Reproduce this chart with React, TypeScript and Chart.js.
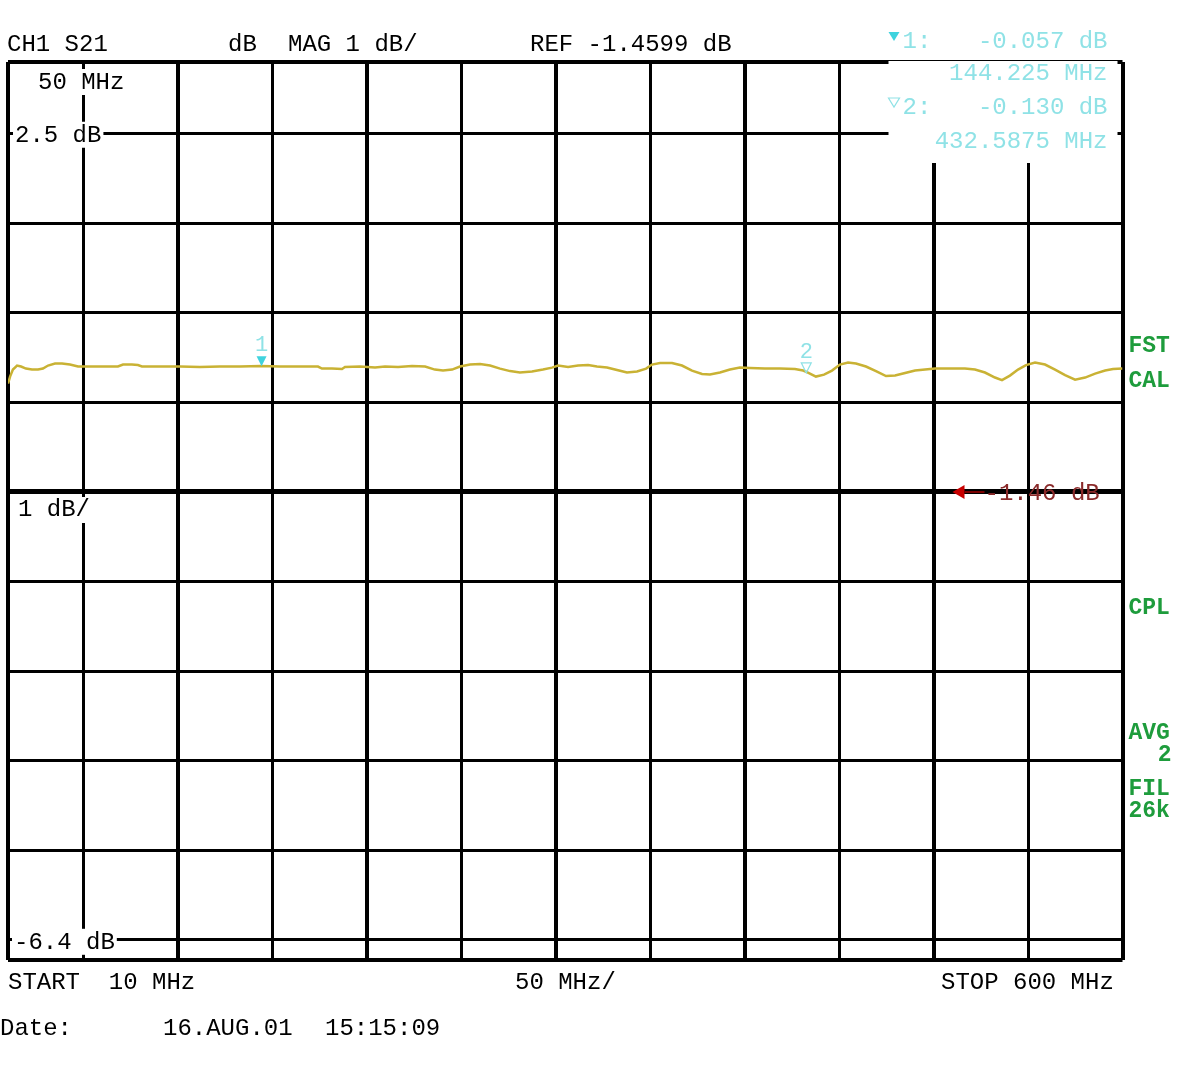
import { useEffect, useRef } from "react";
import { Chart, registerables } from "chart.js";

Chart.register(...registerables);

// ---------- data ----------
const START_MHZ = 10;
const STOP_MHZ = 600;
const REF_DB = -1.4599;
const Y_MAX_DB = 3.3413;
const Y_MIN_DB = -6.6855;

const freqMHz = [
  10, 11.1, 12.6, 14.8, 16.9, 19.5, 22.7, 25.9, 28.5, 31.2, 34.9, 38.6, 42.8, 47.1,
  53.4, 61.4, 68.2, 70.9, 75.6, 78.8, 80.9, 90.5, 101.1, 111.6, 122.2, 132.8, 143.9,
  154.0, 164.6, 174.1, 176.2, 181.5, 186.8, 188.4, 196.3, 204.3, 209.6, 216.5, 223.9,
  230.8, 236.0, 240.3, 245.1, 249.3, 254.6, 259.9, 265.2, 270.5, 275.8, 281.0, 287.4,
  293.2, 298.0, 301.2, 306.5, 311.8, 317.1, 321.8, 327.1, 332.4, 337.7, 343.0, 347.8,
  350.9, 355.2, 361.5, 366.8, 372.1, 377.4, 381.6, 386.9, 392.2, 397.5, 402.8, 410.7,
  418.7, 426.6, 430.9, 433.5, 437.7, 442.0, 446.2, 450.4, 454.7, 458.9, 464.2, 469.5,
  474.8, 479.6, 484.9, 490.2, 495.5, 500.8, 508.7, 516.6, 521.9, 527.2, 532.5, 536.2,
  540.4, 544.7, 548.9, 553.7, 559.0, 564.3, 569.6, 574.9, 580.2, 585.5, 590.8, 595.0, 600,
];
const magDb = [
  -0.249, -0.171, -0.093, -0.048, -0.059, -0.082, -0.093, -0.093, -0.082, -0.048, -0.026,
  -0.026, -0.037, -0.059, -0.059, -0.059, -0.059, -0.037, -0.037, -0.043, -0.059, -0.059,
  -0.059, -0.065, -0.059, -0.059, -0.054, -0.059, -0.059, -0.059, -0.082, -0.082, -0.087,
  -0.065, -0.059, -0.071, -0.059, -0.065, -0.054, -0.059, -0.093, -0.104, -0.093, -0.059,
  -0.037, -0.031, -0.048, -0.082, -0.110, -0.126, -0.115, -0.093, -0.071, -0.048, -0.065,
  -0.048, -0.043, -0.059, -0.071, -0.098, -0.126, -0.115, -0.082, -0.037, -0.020, -0.020,
  -0.048, -0.104, -0.143, -0.149, -0.126, -0.093, -0.071, -0.076, -0.082, -0.082, -0.087,
  -0.104, -0.126, -0.171, -0.149, -0.104, -0.037, -0.015, -0.026, -0.059, -0.110, -0.165,
  -0.160, -0.132, -0.104, -0.093, -0.082, -0.082, -0.082, -0.093, -0.126, -0.182, -0.210,
  -0.160, -0.093, -0.043, -0.015, -0.037, -0.093, -0.154, -0.205, -0.182, -0.138, -0.104,
  -0.087, -0.082,
];

const xGridMHz = [50, 100, 150, 200, 250, 300, 350, 400, 450, 500, 550];
const yGridDivs = [-5, -4, -3, -2, -1, 0, 1, 2, 3, 4];

const markerNames = ["1", "2"];
const markerFreqMHz = [144.225, 432.5875];
const markerDb = [-0.057, -0.13];
const markerReadDb = ["-0.057 dB", "-0.130 dB"];
const markerReadFreq = ["144.225 MHz", "432.5875 MHz"];

const headerTexts = ["CH1 S21", "dB", "MAG 1 dB/", "REF -1.4599 dB"];
const footerTexts = ["START  10 MHz", "50 MHz/", "STOP 600 MHz"];
const dateTexts = ["Date:", "16.AUG.01", "15:15:09"];
const topScaleLabel = "2.5 dB";
const bottomScaleLabel = "-6.4 dB";
const freqLabel = "50 MHz";
const divLabel = "1 dB/";
const refLabel = "-1.46 dB";
const statusTexts = ["FST", "CAL", "CPL", "AVG", "2", "FIL", "26k"];

// ---------- styles ----------
const FONT = "24px 'Liberation Mono', 'DejaVu Sans Mono', monospace";
const FONT_GREEN = "bold 23px 'Liberation Mono', 'DejaVu Sans Mono', monospace";
const FONT_MK = "22px 'Liberation Mono', 'DejaVu Sans Mono', monospace";
const TRACE = "#c9b234";
const CYAN = "#8fe2e6";
const CYAN_FILL = "#3fd3de";
const GREEN = "#1e9c3c";

function textBox(ctx: CanvasRenderingContext2D, s: string, x: number, base: number) {
  const w = ctx.measureText(s).width;
  ctx.fillStyle = "#fff";
  ctx.fillRect(x - 2, base - 20, w + 4, 26);
}

const overlayPlugin = {
  id: "hpOverlay",
  beforeDatasetsDraw(chart: any) {
    const ctx: CanvasRenderingContext2D = chart.ctx;
    const { left, top, right } = chart.chartArea;
    const ys = chart.scales.y;
    ctx.save();
    ctx.font = FONT;
    // marker readout area erases the grid
    ctx.fillStyle = "#fff";
    ctx.fillRect(right - 234, top - 1, 229, 102);
    const y25 = ys.getPixelForValue(REF_DB + 4);
    const y64 = ys.getPixelForValue(REF_DB - 5);
    const yRef = ys.getPixelForValue(REF_DB);
    textBox(ctx, freqLabel, left + 30, top + 27);
    textBox(ctx, topScaleLabel, left + 7, y25 + 8);
    textBox(ctx, divLabel, left + 10, yRef + 25);
    textBox(ctx, bottomScaleLabel, left + 6, y64 + 9);
    ctx.restore();
  },
  afterDatasetsDraw(chart: any) {
    const ctx: CanvasRenderingContext2D = chart.ctx;
    const { left, top, right } = chart.chartArea;
    const xs = chart.scales.x;
    const ys = chart.scales.y;
    ctx.save();
    // markers on the trace
    markerFreqMHz.forEach((f, i) => {
      const px = xs.getPixelForValue(f);
      const py = ys.getPixelForValue(markerDb[i]);
      ctx.beginPath();
      ctx.moveTo(px - 5, py - 10);
      ctx.lineTo(px + 5, py - 10);
      ctx.lineTo(px, py);
      ctx.closePath();
      if (i === 0) {
        ctx.fillStyle = CYAN_FILL;
        ctx.fill();
      } else {
        ctx.strokeStyle = CYAN;
        ctx.lineWidth = 1.2;
        ctx.stroke();
      }
      ctx.font = FONT_MK;
      ctx.fillStyle = CYAN;
      ctx.textAlign = "center";
      ctx.fillText(markerNames[i], px, py - 15);
    });
    // reference position arrow
    const yRef = ys.getPixelForValue(REF_DB);
    const ax = right - 170;
    ctx.fillStyle = "#c80000";
    ctx.beginPath();
    ctx.moveTo(ax, yRef);
    ctx.lineTo(ax + 12, yRef - 7);
    ctx.lineTo(ax + 12, yRef + 7);
    ctx.closePath();
    ctx.fill();
    ctx.fillStyle = "#7a0000";
    ctx.fillRect(ax + 12, yRef - 1, 20, 2);
    ctx.font = FONT;
    ctx.textAlign = "left";
    ctx.fillStyle = "#8a2a2a";
    ctx.fillText(refLabel, right - 138, yRef + 8);

    // labels inside the graticule
    ctx.fillStyle = "#000";
    const y25 = ys.getPixelForValue(REF_DB + 4);
    const y64 = ys.getPixelForValue(REF_DB - 5);
    ctx.fillText(freqLabel, left + 30, top + 27);
    ctx.fillText(topScaleLabel, left + 7, y25 + 8);
    ctx.fillText(divLabel, left + 10, yRef + 24);
    ctx.fillText(bottomScaleLabel, left + 6, y64 + 9);
    ctx.restore();
  },
  afterDraw(chart: any) {
    const ctx: CanvasRenderingContext2D = chart.ctx;
    const { top, right, bottom } = chart.chartArea;
    ctx.save();
    ctx.font = FONT;
    ctx.fillStyle = "#000";
    ctx.textAlign = "left";
    // header
    const hx = [7, 228, 288, 530];
    headerTexts.forEach((s, i) => ctx.fillText(s, hx[i], top - 11));
    // footer
    const fx = [8, 515, 941];
    footerTexts.forEach((s, i) => ctx.fillText(s, fx[i], bottom + 29));
    const dx = [0, 163, 325];
    dateTexts.forEach((s, i) => ctx.fillText(s, dx[i], bottom + 75));

    // marker readouts
    ctx.fillStyle = CYAN;
    const rowY = [top - 14, top + 18, top + 52, top + 86];
    [0, 1].forEach((i) => {
      const yy = rowY[i * 2];
      const tx = right - 234;
      ctx.beginPath();
      ctx.moveTo(tx, yy - 16);
      ctx.lineTo(tx + 11, yy - 16);
      ctx.lineTo(tx + 5.5, yy - 7);
      ctx.closePath();
      if (i === 0) {
        ctx.fillStyle = CYAN_FILL;
        ctx.fill();
      } else {
        ctx.strokeStyle = CYAN;
        ctx.lineWidth = 1.2;
        ctx.stroke();
      }
      ctx.fillStyle = CYAN;
      ctx.textAlign = "left";
      ctx.fillText(markerNames[i] + ":", tx + 14, yy);
      ctx.textAlign = "right";
      ctx.fillText(markerReadDb[i], right - 15, yy);
      ctx.fillText(markerReadFreq[i], right - 15, rowY[i * 2 + 1]);
    });

    // status annotations
    ctx.font = FONT_GREEN;
    ctx.fillStyle = GREEN;
    const sy = [352, 387, 614, 739, 761, 795, 817];
    statusTexts.forEach((s, i) => {
      if (s === "2") {
        ctx.textAlign = "right";
        ctx.fillText(s, right + 49, sy[i]);
      } else {
        ctx.textAlign = "left";
        ctx.fillText(s, right + 6, sy[i]);
      }
    });
    ctx.restore();
  },
};

export default function App() {
  const ref = useRef<HTMLCanvasElement | null>(null);

  useEffect(() => {
    if (!ref.current) return;
    const xTickVals = [START_MHZ, ...xGridMHz, STOP_MHZ];
    const yTickVals = [Y_MIN_DB, ...yGridDivs.map((k) => REF_DB + k), Y_MAX_DB];
    const chart = new Chart(ref.current, {
      type: "line",
      data: {
        datasets: [
          {
            data: freqMHz.map((f, i) => ({ x: f, y: magDb[i] })),
            borderColor: TRACE,
            borderWidth: 2.5,
            pointRadius: 0,
            tension: 0,
            fill: false,
          },
        ],
      },
      options: {
        animation: false,
        responsive: false,
        events: [],
        layout: { padding: { left: 8, top: 62, right: 58.5, bottom: 130 } },
        plugins: { legend: { display: false }, tooltip: { enabled: false } },
        scales: {
          x: {
            type: "linear",
            min: START_MHZ,
            max: STOP_MHZ,
            ticks: { display: false },
            border: { display: false },
            grid: {
              drawTicks: false,
              color: "#000",
              lineWidth: (c: any) => {
                const v = c.tick ? c.tick.value : 0;
                if (v === START_MHZ || v === STOP_MHZ) return 4;
                return v % 100 === 0 ? 4 : 3;
              },
            },
            afterBuildTicks: (s: any) => {
              s.ticks = xTickVals.map((v) => ({ value: v }));
            },
          },
          y: {
            type: "linear",
            min: Y_MIN_DB,
            max: Y_MAX_DB,
            ticks: { display: false },
            border: { display: false },
            grid: {
              drawTicks: false,
              color: "#000",
              lineWidth: (c: any) => {
                const v = c.tick ? c.tick.value : 0;
                if (v === Y_MIN_DB || v === Y_MAX_DB) return 4;
                return v === REF_DB ? 5 : 3;
              },
            },
            afterBuildTicks: (s: any) => {
              s.ticks = yTickVals.map((v) => ({ value: v }));
            },
          },
        },
      },
      plugins: [overlayPlugin],
    });
    return () => chart.destroy();
  }, []);

  return (
    <div
      style={{
        position: "absolute",
        left: 0,
        top: 0,
        width: 1181,
        height: 1090,
        background: "#fff",
      }}
    >
      <canvas ref={ref} width={1181} height={1090} style={{ display: "block" }} />
    </div>
  );
}
